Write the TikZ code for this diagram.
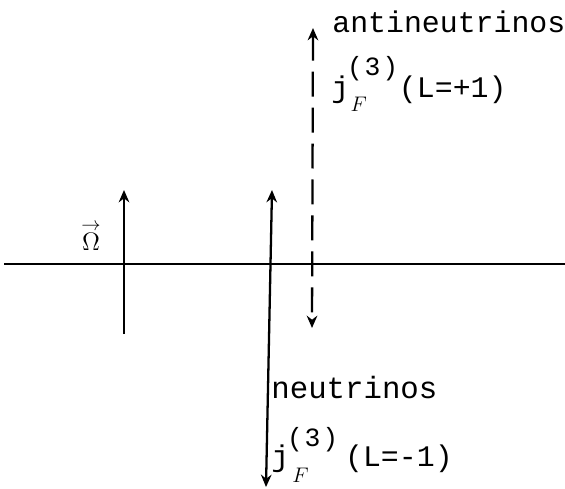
\documentclass[tikz,border=0pt]{standalone}
\usepackage{fontspec}
\setmonofont{Liberation Mono}
\usepackage{tikz}
\usetikzlibrary{positioning, arrows.meta}
\tikzstyle{axis} = [line width=1.3pt]
\tikzstyle{arrow} = [line width=1.3pt, -{Stealth[length=7pt,width=6pt]}]

\begin{document}
\begin{tikzpicture}[x=0.02cm, y=-0.02cm,
    label/.style={font=\fontsize{17}{20}\selectfont\ttfamily, anchor=base west, inner sep=0pt},
    twoway/.style={line width=1.3pt, {Stealth[length=7pt,width=6pt]}-{Stealth[length=7pt,width=6pt]}},
    dashline/.style={twoway, dash pattern=on 0.5cm off 0.22cm}]
    \useasboundingbox (0,0) rectangle (565,488);

    % Horizontal axis
    \coordinate (axl) at (4,264);
    \coordinate (axr) at (565,264);
    \draw[axis] (axl) -- (axr);

    % Rotation vector
    \coordinate (omlow) at (124,334);
    \coordinate (omtop) at (124,190);
    \draw[arrow] (omlow) -- (omtop);
    \node[font=\fontsize{15}{17}\selectfont, inner sep=0pt] (omega) at (91,236) {$\stackrel{\rightarrow}{\Omega}$};

    % Neutrino current
    \coordinate (nutop) at (272,190);
    \coordinate (nulow) at (266,487);
    \draw[twoway] (nutop) -- (nulow);
    \node[label, font=\fontsize{17.5}{20}\selectfont\ttfamily] (nu) at (271,398) {neutrinos};
    \node[label] (nucur) at (271,466)
        {\rlap{j}\rlap{\hspace{12pt}\raisebox{-9.5pt}{\fontsize{13}{13}\selectfont$F$}}\rlap{\hspace{9pt}\raisebox{11pt}{\fontsize{15}{15}\selectfont(\hspace{1pt}3\hspace{1pt})}}\hspace{42pt}(L=-1)};

    % Antineutrino current
    \coordinate (antop) at (313,28);
    \coordinate (anlow) at (312,328);
    \draw[dashline] (antop) -- (anlow);
    \node[label] (anu) at (332,32) {antineutrinos};
    \node[label] (anucur) at (331,97)
        {\rlap{j}\rlap{\hspace{11pt}\raisebox{-8pt}{\fontsize{13}{13}\selectfont$F$}}\rlap{\hspace{9pt}\raisebox{12.5pt}{\fontsize{15}{15}\selectfont(\hspace{1pt}3\hspace{1pt})}}\hspace{38.5pt}(L=+1)};

\end{tikzpicture}
\end{document}
